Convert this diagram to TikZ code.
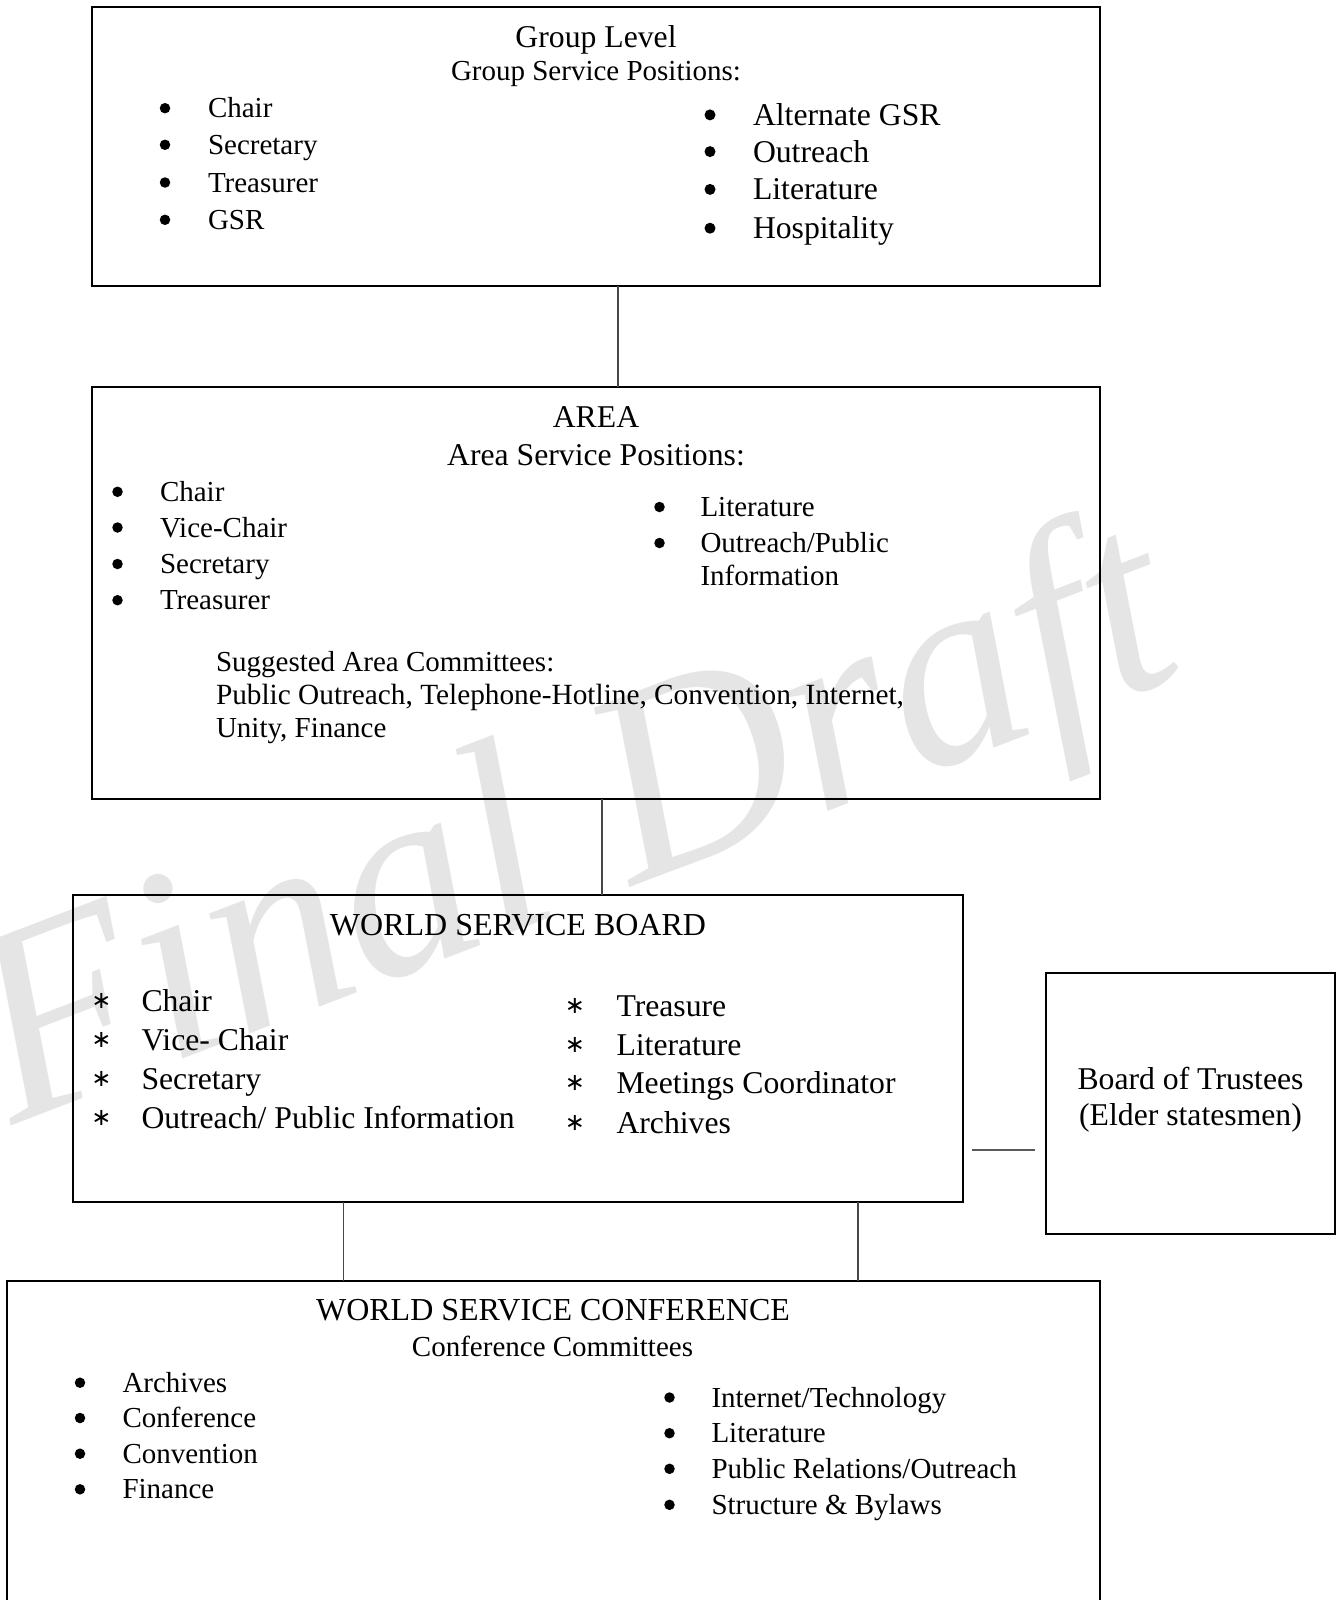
\documentclass[tikz,border=0pt]{standalone}
\usepackage{fontspec}
\setmainfont{Liberation Serif}
\newfontfamily\astfont{DejaVu Sans}
\begin{document}
\begin{tikzpicture}[x=1pt,y=-1pt,
  box/.style={draw=black, line width=2pt, rectangle, inner sep=0pt, outer sep=0pt},
  conn/.style={draw=black!72, line width=1.3pt},
  lt/.style={inner sep=0pt, outer sep=0pt, anchor=base west},
  ct/.style={inner sep=0pt, outer sep=0pt, anchor=base},
  s11/.style={font=\fontsize{29}{34}\selectfont},
  s12/.style={font=\fontsize{31.7}{37}\selectfont},
  bul/.style={circle, fill=black, inner sep=0pt, outer sep=0pt, minimum size=10.5pt, yshift=9.5pt},
  bulb/.style={circle, fill=black, inner sep=0pt, outer sep=0pt, minimum size=11pt, yshift=10.5pt},
  ast/.style={inner sep=0pt, outer sep=0pt, anchor=base, yshift=3pt, font=\astfont\fontsize{24}{28}\selectfont}
]
\useasboundingbox (0,0) rectangle (1342,1600);
\clip (0,0) rectangle (1342,1600);
\fill[white] (0,0) rectangle (1342,1600);

% watermark
\node[lt, rotate=21, text=black!10, font=\fontsize{275}{275}\selectfont\itshape] (wm) at (12,1125) {Final Draft};

% boxes
\node[box, minimum width=1008pt, minimum height=279pt] (group) at (596,146.5) {};
\node[box, minimum width=1008pt, minimum height=412pt] (area) at (596,593) {};
\node[box, minimum width=890.5pt, minimum height=307pt] (wsb) at (517.75,1048.5) {};
\node[box, minimum width=288.5pt, minimum height=261pt] (bot) at (1190.25,1103.5) {};
\node[box, minimum width=1093pt, minimum height=359pt] (wsc) at (553.5,1460.5) {};

% connectors
\draw[conn] (618,0 |- group.south) -- (618,0 |- area.north);
\draw[conn] (602,0 |- area.south) -- (602,0 |- wsb.north);
\draw[conn] (343.3,0 |- wsb.south) -- (343.3,0 |- wsc.north);
\draw[conn] (858,0 |- wsb.south) -- (858,0 |- wsc.north);
\coordinate (s1) at (972,1149.5);
\coordinate (s2) at (1035,1149.5);
\draw[conn, line width=2pt, draw=black!65] (s1) -- (s2);

% Group level
\node[ct, s12] (g1) at (596,47.5) {Group Level};
\node[ct, s11] (g2) at (596,81) {Group Service Positions:};
\foreach \y/\t [count=\i] in {117.7/{Chair},154.3/{Secretary},192/{Treasurer},229.3/{GSR}}{
  \node[bul] (gbl\i) at (165,\y) {};
  \node[lt, s11] (gtl\i) at (208,\y) {\t};
}
\foreach \y/\t [count=\i] in {125.4/{Alternate GSR},162.1/{Outreach},199.9/{Literature},238.7/{Hospitality}}{
  \node[bulb] (gbr\i) at (710,\y) {};
  \node[lt, s12] (gtr\i) at (753,\y) {\t};
}

% Area
\node[ct, s12] (a1) at (596,427.7) {AREA};
\node[ct, s12] (a2) at (596,465) {Area Service Positions:};
\foreach \y/\t [count=\i] in {501.3/{Chair},537/{Vice-Chair},573.5/{Secretary},609.7/{Treasurer}}{
  \node[bul] (abl\i) at (117.5,\y) {};
  \node[lt, s11] (atl\i) at (160,\y) {\t};
}
\node[bul] (abr1) at (659.5,516.5) {};
\node[lt, s11] (atr1) at (700.5,516.5) {Literature};
\node[bul] (abr2) at (659.5,552.5) {};
\node[lt, s11] (atr2) at (700.5,552.5) {Outreach/Public};
\node[lt, s11] (atr3) at (700.5,585.5) {Information};
\node[lt, s11] (ac1) at (216,671.3) {Suggested Area Committees:};
\node[lt, font=\fontsize{29.3}{34}\selectfont] (ac2) at (216,704.7) {Public Outreach, Telephone-Hotline, Convention, Internet,};
\node[lt, s11] (ac3) at (216,737.7) {Unity, Finance};

% World Service Board
\node[ct, font=\fontsize{32}{37}\selectfont] (w1) at (518,935) {WORLD SERVICE BOARD};
\foreach \y/\t [count=\i] in {1011/{Chair},1050/{Vice- Chair},1089.7/{Secretary},1128.4/{Outreach/ Public Information}}{
  \node[ast] (wal\i) at (101.5,\y) {∗};
  \node[lt, s12] (wtl\i) at (141.5,\y) {\t};
}
\foreach \y/\t [count=\i] in {1016.2/{Treasure},1055/{Literature},1093.8/{Meetings Coordinator},1133.6/{Archives}}{
  \node[ast] (war\i) at (575,\y) {∗};
  \node[lt, s12] (wtr\i) at (616.5,\y) {\t};
}

% Board of Trustees
\node[ct, s12] (b1) at (1190.5,1089) {Board of Trustees};
\node[ct, s12] (b2) at (1190.5,1125) {(Elder statesmen)};

% World Service Conference
\node[ct, font=\fontsize{32}{37}\selectfont] (c1) at (553,1320) {WORLD SERVICE CONFERENCE};
\node[ct, s11] (c2) at (552.5,1356) {Conference Committees};
\foreach \y/\t [count=\i] in {1392.2/{Archives},1427.5/{Conference},1463.2/{Convention},1498.8/{Finance}}{
  \node[bul] (cbl\i) at (80,\y) {};
  \node[lt, s11] (ctl\i) at (122.5,\y) {\t};
}
\foreach \y/\t [count=\i] in {1407/{Internet/Technology},1442.7/{Literature},1478.3/{Public Relations/Outreach},1514.3/{Structure \& Bylaws}}{
  \node[bul] (cbr\i) at (669.5,\y) {};
  \node[lt, s11] (ctr\i) at (711.5,\y) {\t};
}
\end{tikzpicture}
\end{document}
